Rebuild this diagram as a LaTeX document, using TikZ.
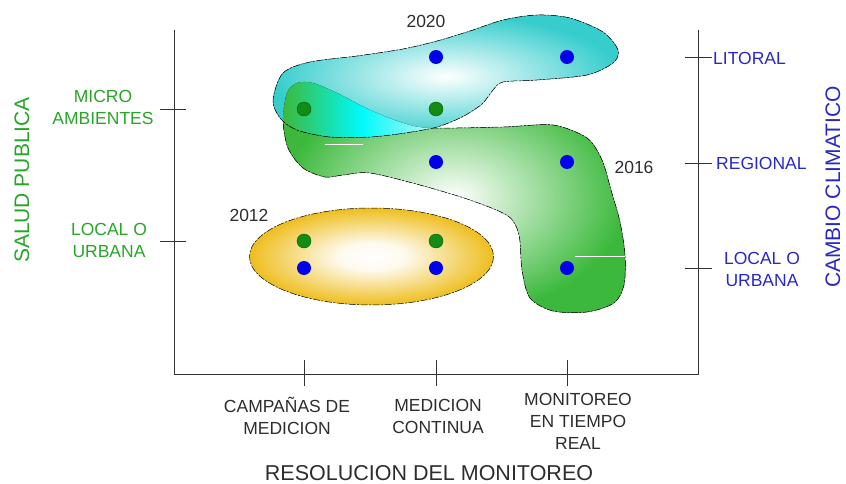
\documentclass[tikz,border=0pt]{standalone}
\usepackage{fontspec}
\setmainfont{Liberation Sans}
\definecolor{txtgray}{RGB}{45,45,45}
\definecolor{txtgreen}{RGB}{40,165,40}
\definecolor{txtblue}{RGB}{40,40,200}
\definecolor{dotgreen}{RGB}{20,140,20}
\definecolor{dotgreenline}{RGB}{0,90,0}
\definecolor{dotblue}{RGB}{0,0,235}
\definecolor{blobgreen}{RGB}{60,185,60}
\definecolor{blobcyan}{RGB}{55,205,205}
\definecolor{brightcyan}{RGB}{0,250,250}
\definecolor{palecyan}{RGB}{205,245,245}
\definecolor{blobgold}{RGB}{238,190,30}
\pgfdeclareradialshading{goldshade}{\pgfpoint{0bp}{0bp}}{color(0bp)=(white); color(7bp)=(white!92!blobgold); color(25bp)=(blobgold); color(50bp)=(blobgold)}
\newcommand{\greenblob}{plot[smooth cycle,tension=0.5] coordinates {(287,93) (297,83) (313,83) (337,93) (370,110) (403,123) (430,128) (503,127) (553,125) (587,138) (602,160) (611,190) (620,222) (625,255) (624,285) (614,303) (587,312) (553,311) (530,298) (522,270) (519,235) (508,216) (470,200) (420,185) (370,173) (343,175) (325,177) (303,168) (288,148) (283,120)}}
\newcommand{\cyanblob}{plot[smooth cycle,tension=0.5] coordinates {(273,100) (283,73) (310,62) (357,56) (403,49) (437,41) (470,31) (503,20) (537,15) (570,18) (603,32) (618,50) (613,63) (587,75) (537,80) (503,82) (493,90) (482,104) (462,117) (437,127) (405,133) (370,137) (330,137) (297,130) (280,118)}}
\begin{document}
\begin{tikzpicture}[x=1pt,y=-1pt,
  lbl/.style={font=\fontsize{17.5}{22}\selectfont,text=txtgray,align=center,inner sep=0pt},
  glbl/.style={lbl,text=txtgreen},
  blbl/.style={lbl,text=txtblue},
  axis/.style={line width=0.8pt,black!80},
  outline/.style={draw=black,line width=0.5pt,dash pattern=on 7pt off 1.5pt on 2pt off 1.5pt},
  gdot/.style={circle,fill=dotgreen,draw=dotgreenline,line width=0.4pt,minimum size=14pt,inner sep=0pt},
  bdot/.style={circle,fill=dotblue,minimum size=14pt,inner sep=0pt}]
\useasboundingbox (0,0) rectangle (846,484);
% blobs
\path[outline,shading=goldshade] (371.5,256.5) ellipse [x radius=122,y radius=48.5];
\fill[outline,inner color=white,outer color=blobgreen] \greenblob;
\draw[white,line width=1pt] (575,256) -- (625,256);
\fill[inner color=white,outer color=blobcyan] \cyanblob;
\begin{scope}
  \clip \greenblob;
  \clip \cyanblob;
  \fill[left color=blobgreen,right color=palecyan,middle color=brightcyan] (283,60) rectangle (440,145);
\end{scope}
\draw[white,line width=1pt] (325,145) -- (363,145);
\draw[outline] \cyanblob;
% axes
\coordinate (lt) at (174,30);
\coordinate (o) at (174,374);
\coordinate (rb) at (698,374);
\coordinate (rt) at (698,30);
\draw[axis] (lt) -- (o) -- (rb) -- (rt);
\foreach \y [count=\i] in {109,241} {
  \coordinate (la\i) at (160,\y); \coordinate (lb\i) at (186,\y);
  \draw[axis] (la\i) -- (lb\i);
}
\foreach \y [count=\i] in {57,163,268} {
  \coordinate (ra\i) at (685,\y); \coordinate (rb\i) at (712,\y);
  \draw[axis] (ra\i) -- (rb\i);
}
\foreach \x [count=\i] in {304,436,567} {
  \coordinate (ba\i) at (\x,360); \coordinate (bb\i) at (\x,386);
  \draw[axis] (ba\i) -- (bb\i);
}
% dots
\node[bdot] (b1) at (436,57) {};
\node[bdot] (b2) at (567,57) {};
\node[gdot] (g1) at (304,109) {};
\node[gdot] (g2) at (436,109) {};
\node[bdot] (b3) at (436,162) {};
\node[bdot] (b4) at (567,162) {};
\node[gdot] (g3) at (304,241) {};
\node[gdot] (g4) at (436,241) {};
\node[bdot] (b5) at (304,268) {};
\node[bdot] (b6) at (436,268) {};
\node[bdot] (b7) at (567,268) {};
% years
\node[lbl] (y2020) at (426,21) {2020};
\node[lbl] (y2016) at (634,167) {2016};
\node[lbl] (y2012) at (249,215) {2012};
% left labels
\node[glbl] (micro) at (103,107) {MICRO\\AMBIENTES};
\node[glbl] (localL) at (109,240) {LOCAL O\\URBANA};
\node[glbl,font=\fontsize{21}{24}\selectfont,rotate=90] (salud) at (22,180) {SALUD PUBLICA};
% right labels
\node[blbl,anchor=west] (litoral) at (713,58) {LITORAL};
\node[blbl,anchor=west] (regional) at (716,163) {REGIONAL};
\node[blbl] (localR) at (762,269) {LOCAL O\\URBANA};
\node[blbl,font=\fontsize{21}{24}\selectfont,rotate=90] (cambio) at (833,187) {CAMBIO CLIMATICO};
% bottom labels
\node[lbl] (camp) at (287,416) {CAMPAÑAS DE\\MEDICION};
\node[lbl] (medc) at (438,416) {MEDICION\\CONTINUA};
\node[lbl] (mtr) at (578,421) {MONITOREO\\EN TIEMPO\\REAL};
\node[lbl,font=\fontsize{21.5}{26}\selectfont] (title) at (429,473) {RESOLUCION DEL MONITOREO};
\end{tikzpicture}
\end{document}
